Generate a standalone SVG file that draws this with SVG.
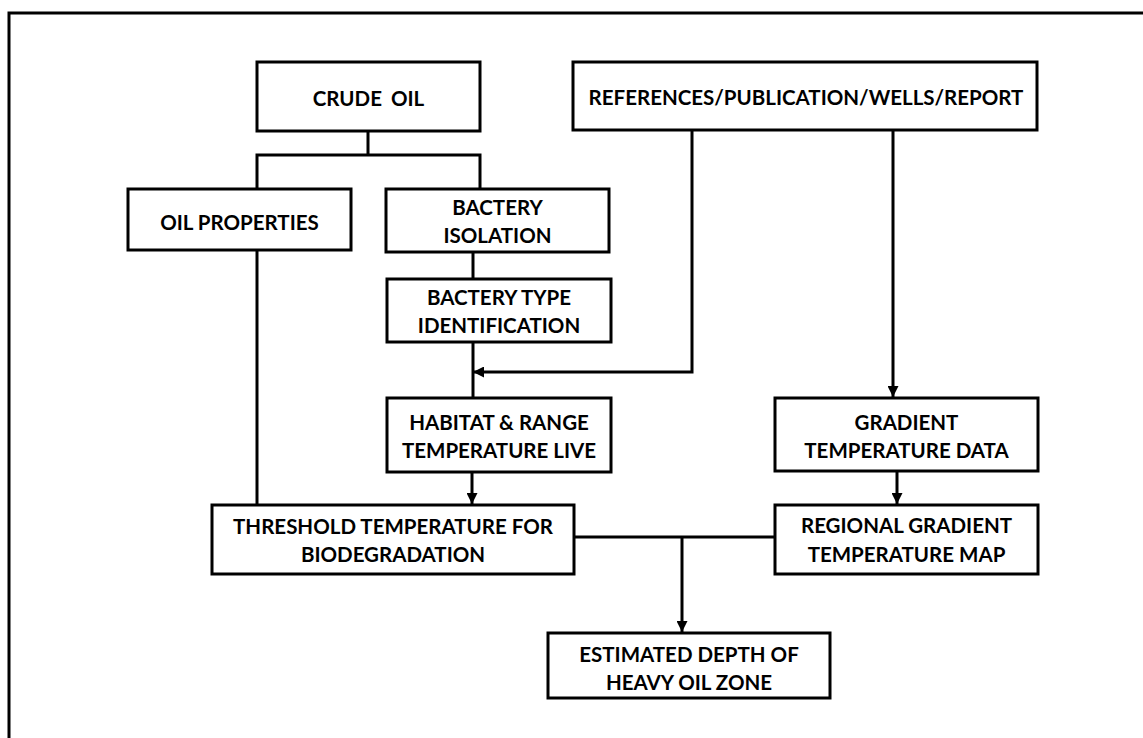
<svg xmlns="http://www.w3.org/2000/svg" width="1143" height="738" viewBox="0 0 1143 738">
<style>
.box{fill:#fff;stroke:#000;stroke-width:3}
.t{font-family:Lato,"Liberation Sans",sans-serif;font-weight:bold;font-size:20.5px;fill:#000;text-anchor:middle}
.c{fill:none;stroke:#000;stroke-width:3}
</style>
<defs>
<marker id="ah" markerWidth="12" markerHeight="11" refX="11" refY="5.5" orient="auto" markerUnits="userSpaceOnUse">
<path d="M0,0 L11,5.5 L0,11 z" fill="#000"/>
</marker>
</defs>
<rect x="0" y="0" width="1143" height="738" fill="#fff"/>
<rect x="9" y="13" width="1300" height="900" fill="none" stroke="#000" stroke-width="3"/>
<g id="connectors">
<path class="c" d="M368,131 V155 M257,189 V155 H480 V189"/>
<path class="c" d="M473,252 V279"/>
<path class="c" d="M473,342 V398"/>
<path class="c" d="M692,130 V372 H473" marker-end="url(#ah)"/>
<path class="c" d="M893,130 V397" marker-end="url(#ah)"/>
<path class="c" d="M257,250 V505"/>
<path class="c" d="M472,472 V504" marker-end="url(#ah)"/>
<path class="c" d="M897,471 V504" marker-end="url(#ah)"/>
<path class="c" d="M574,537 H775"/>
<path class="c" d="M682,537 V632" marker-end="url(#ah)"/>
</g>
<g id="crude-oil"><rect class="box" x="257" y="62" width="223" height="69"/><text class="t" x="368.5" y="106" style="word-spacing:4px">CRUDE OIL</text></g>
<g id="references"><rect class="box" x="573" y="62" width="464" height="68"/><text class="t" x="806" y="105">REFERENCES/PUBLICATION/WELLS/REPORT</text></g>
<g id="oil-properties"><rect class="box" x="128" y="189" width="223" height="61"/><text class="t" x="239.5" y="230">OIL PROPERTIES</text></g>
<g id="bactery-isolation"><rect class="box" x="386" y="189" width="223" height="63"/><text class="t" x="497.5" y="215">BACTERY</text><text class="t" x="497.5" y="243">ISOLATION</text></g>
<g id="bactery-type"><rect class="box" x="387" y="279" width="224" height="63"/><text class="t" x="499" y="305">BACTERY TYPE</text><text class="t" x="499" y="333">IDENTIFICATION</text></g>
<g id="habitat"><rect class="box" x="387" y="398" width="224" height="74"/><text class="t" x="499" y="430">HABITAT &amp; RANGE</text><text class="t" x="499" y="458">TEMPERATURE LIVE</text></g>
<g id="gradient"><rect class="box" x="775" y="398" width="263" height="73"/><text class="t" x="906.5" y="430">GRADIENT</text><text class="t" x="906.5" y="458">TEMPERATURE DATA</text></g>
<g id="threshold"><rect class="box" x="212" y="505" width="362" height="69"/><text class="t" x="393" y="534">THRESHOLD TEMPERATURE FOR</text><text class="t" x="393" y="562">BIODEGRADATION</text></g>
<g id="regional"><rect class="box" x="775" y="505" width="263" height="69"/><text class="t" x="906.5" y="533">REGIONAL GRADIENT</text><text class="t" x="906.5" y="562">TEMPERATURE MAP</text></g>
<g id="estimated"><rect class="box" x="548" y="633" width="282" height="65"/><text class="t" x="689" y="662">ESTIMATED DEPTH OF</text><text class="t" x="689" y="690">HEAVY OIL ZONE</text></g>
</svg>
